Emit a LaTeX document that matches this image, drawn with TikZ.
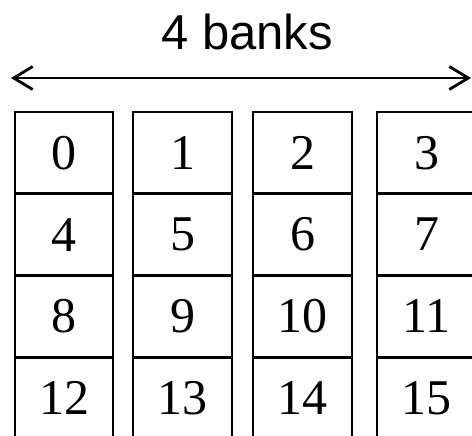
\documentclass[tikz,border=0pt]{standalone}
\usepackage{fontspec}
\setmainfont{Liberation Serif}
\newfontfamily\titlesans{Liberation Sans}
\usetikzlibrary{arrows.meta}
\tikzset{
  cell/.style={draw=black, line width=2.8pt, rectangle, inner sep=0pt,
    minimum width=99pt, minimum height=81.75pt,
    font=\fontsize{50pt}{56pt}\selectfont},
  span/.style={line width=2.8pt, {Straight Barb[length=19pt,width=23pt,line width=2.8pt]}-{Straight Barb[length=19pt,width=23pt,line width=2.8pt]}},
  titletext/.style={font=\titlesans\fontsize{49pt}{55pt}\selectfont, anchor=base, inner sep=0pt}
}
\begin{document}
\begin{tikzpicture}[x=1pt,y=-1pt]
\useasboundingbox (0,0) rectangle (472,436);
\clip (0,0) rectangle (472,436);
\node[titletext] (title) at (247,50) {4 banks};
\coordinate (aL) at (11,78);
\coordinate (aR) at (471,78);
\draw[span] (aL) -- (aR);
\foreach \cx/\w [count=\c from 0] in {64/98, 182.5/99, 302.5/99, 426.5/99} {
  \foreach \r in {0,1,2,3} {
    \pgfmathtruncatemacro{\n}{4*\r+\c}
    \node[cell, minimum width=\w pt] (c\n) at (\cx, {112+81.75*(\r+0.5)}) {\n};
  }
}
\end{tikzpicture}
\end{document}
